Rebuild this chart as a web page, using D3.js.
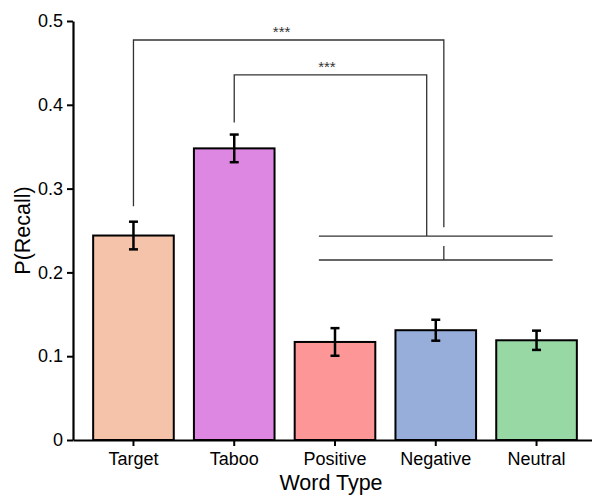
<!DOCTYPE html>
<html>
<head>
<meta charset="utf-8">
<script src="https://cdn.jsdelivr.net/npm/d3@7"></script>
<style>
  body { margin: 0; background: #fff; }
  text { font-family: "Liberation Sans", Arial, sans-serif; }
</style>
</head>
<body>
<div id="chart"></div>
<script>
// data
const categories = ["Target", "Taboo", "Positive", "Negative", "Neutral"]
const means = [0.244, 0.348, 0.117, 0.131, 0.119]
const errors = [0.0165, 0.0165, 0.0165, 0.0125, 0.0115]
const colors = ["#F5C3A9", "#DD87E3", "#FD9696", "#97AEDB", "#98D8A5"]
const yTicks = [0, 0.1, 0.2, 0.3, 0.4, 0.5]

// significance annotations (category index, value units)
const groupLines = [0.2434, 0.2148]        // lines under the Positive..Neutral group
const groupSpan = [2 - 0.16, 4 + 0.16]
const brackets = [
  {from: 0, to: 3.08, top: 0.4773, leftEnd: 0.279, rightEnd: 0.254, label: "***", labelAt: 1.47},
  {from: 1, to: 2.91, top: 0.4356, leftEnd: 0.379, rightEnd: 0.2434, label: "***", labelAt: 1.92}
]
const tickUp = {at: 3.08, from: 0.2148, to: 0.2315}

function main(){
    const width = 592
    const height = 497

    const svg = d3.select('#chart')
        .append('svg')
        .attr('width', width)
        .attr('height', height)

    const x = d3.scaleBand()
        .domain(categories)
        .range([73, 597])
        .paddingInner(0.2)
        .paddingOuter(0.2)

    const y = d3.scaleLinear()
        .domain([0, 0.5])
        .range([440, 21])

    // category index -> pixel centre
    const pos = i => x(categories[0]) + x.bandwidth() / 2 + i * x.step()

    // bars
    svg.append('g')
        .selectAll('rect')
        .data(categories)
        .join('rect')
            .attr('x', d => x(d))
            .attr('y', (d, i) => y(means[i]))
            .attr('width', x.bandwidth())
            .attr('height', (d, i) => y(0) - y(means[i]))
            .attr('fill', (d, i) => colors[i])
            .attr('stroke', '#000')
            .attr('stroke-width', 2)

    // error bars
    const eb = svg.append('g').attr('stroke', '#000').attr('stroke-width', 2.5)
    categories.forEach((c, i) => {
        const cx = x(c) + x.bandwidth() / 2
        const lo = y(means[i] - errors[i]), hi = y(means[i] + errors[i])
        eb.append('line').attr('x1', cx).attr('x2', cx).attr('y1', lo).attr('y2', hi)
        eb.append('line').attr('x1', cx - 4.5).attr('x2', cx + 4.5).attr('y1', lo).attr('y2', lo)
        eb.append('line').attr('x1', cx - 4.5).attr('x2', cx + 4.5).attr('y1', hi).attr('y2', hi)
    })

    // axes
    const xAxis = svg.append('g')
        .attr('transform', `translate(0, ${y(0)})`)
        .call(d3.axisBottom(x).tickSize(6).tickSizeOuter(0).tickPadding(6))
    const yAxis = svg.append('g')
        .attr('transform', `translate(73, 0)`)
        .call(d3.axisLeft(y).tickValues(yTicks).tickSize(6).tickSizeOuter(0).tickPadding(4)
            .tickFormat(d => d === 0 ? "0" : d.toFixed(1)))
    ;[xAxis, yAxis].forEach(g => {
        g.select('.domain').attr('stroke-width', 2.2)
        g.selectAll('.tick line').attr('stroke-width', 2)
        g.selectAll('.tick text').attr('font-size', 18).attr('fill', '#000')
            .style('font-family', '"Liberation Sans", Arial, sans-serif')
    })

    // significance marks
    const sig = svg.append('g').attr('stroke', '#333').attr('stroke-width', 1.3).attr('fill', 'none')
    groupLines.forEach(v => {
        sig.append('line').attr('x1', pos(groupSpan[0])).attr('x2', pos(groupSpan[1]))
            .attr('y1', y(v)).attr('y2', y(v))
    })
    brackets.forEach(b => {
        sig.append('path').attr('d', d3.line()([
            [pos(b.from), y(b.leftEnd)], [pos(b.from), y(b.top)],
            [pos(b.to), y(b.top)], [pos(b.to), y(b.rightEnd)]
        ]))
        svg.append('text')
            .attr('x', pos(b.labelAt)).attr('y', y(b.top) - 3)
            .attr('text-anchor', 'middle').attr('font-size', 15).attr('fill', '#333')
            .text(b.label)
    })
    sig.append('line').attr('x1', pos(tickUp.at)).attr('x2', pos(tickUp.at))
        .attr('y1', y(tickUp.from)).attr('y2', y(tickUp.to))

    // titles
    svg.append('text')
        .attr('x', (73 + 597) / 2 - 4).attr('y', 490)
        .attr('text-anchor', 'middle').attr('font-size', 21.5)
        .text('Word Type')
    svg.append('text')
        .attr('transform', `translate(22, ${(21 + 440) / 2}) rotate(-90)`)
        .attr('text-anchor', 'middle').attr('dy', '0.35em').attr('font-size', 21.5)
        .text('P(Recall)')
}

main()
</script>
</body>
</html>
